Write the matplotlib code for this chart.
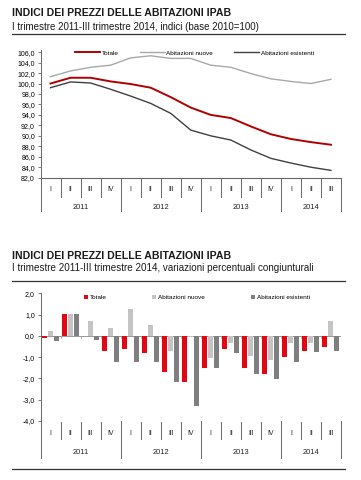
import numpy as np
import matplotlib
matplotlib.use("Agg")
import matplotlib.pyplot as plt
from matplotlib.lines import Line2D

plt.rcParams['font.family'] = ['Liberation Sans', 'DejaVu Sans']

quarters = ["I", "II", "III", "IV"] * 3 + ["I", "II", "III"]
years = ["2011", "2012", "2013", "2014"]
year_len = [4, 4, 4, 3]

# indici (base 2010=100)
idx_totale = [100.0, 101.1, 101.1, 100.4, 99.9, 99.2, 97.4, 95.4,
              94.0, 93.4, 91.8, 90.3, 89.4, 88.8, 88.3]
idx_nuove = [101.3, 102.4, 103.1, 103.5, 104.9, 105.3, 104.8, 104.8,
             103.5, 103.1, 101.9, 100.9, 100.4, 100.0, 100.8]
idx_esistenti = [99.2, 100.3, 100.1, 98.9, 97.6, 96.2, 94.3, 91.1,
                 90.0, 89.2, 87.3, 85.7, 84.8, 84.0, 83.4]

# variazioni percentuali congiunturali
var_totale = [-0.1, 1.05, 0.0, -0.7, -0.6, -0.8, -1.7, -2.15,
              -1.5, -0.6, -1.5, -1.8, -1.0, -0.7, -0.5]
var_nuove = [0.25, 1.05, 0.7, 0.35, 1.25, 0.5, -0.7, -0.05,
             -1.05, -0.35, -0.95, -1.15, -0.35, -0.35, 0.7]
var_esistenti = [-0.25, 1.05, -0.2, -1.25, -1.25, -1.25, -2.15, -3.3,
                 -1.5, -0.8, -1.8, -2.05, -1.25, -0.75, -0.7]

W, H = 361, 480
fig = plt.figure(figsize=(W / 100, H / 100), dpi=100)


def fx(px):
    return px / W


def fy(py):
    return 1 - py / H


def header(y_title, y_sub, y_rule, sub, sub_size):
    fig.text(fx(11.5), fy(y_title), "INDICI DEI PREZZI DELLE ABITAZIONI IPAB",
             fontsize=7.6, fontweight="bold", va="center", ha="left", color="#1a1a1a")
    fig.text(fx(11.5), fy(y_sub), sub, fontsize=sub_size, va="center", ha="left",
             color="#1a1a1a")
    fig.add_artist(Line2D([fx(12), fx(345)], [fy(y_rule), fy(y_rule)],
                          color="#333333", lw=0.9))


def category_axis(ax, y_roman, y_year, q_top, q_bot, y_bot):
    n = len(quarters)
    tr = ax.get_xaxis_transform()
    for i, q in enumerate(quarters):
        ax.text(i, y_roman, q, transform=tr, ha="center", va="center",
                fontsize=5.0, color="#222222")
    starts = np.cumsum([0] + year_len)
    for k, yr in enumerate(years):
        mid = (starts[k] + starts[k + 1]) / 2 - 0.5
        ax.text(mid, y_year, yr, transform=tr, ha="center", va="center",
                fontsize=5.4, color="#222222")
    for b in range(n + 1):
        xb = b - 0.5
        if b in starts:
            ax.plot([xb, xb], [0, y_bot], transform=tr, color="#666666",
                    lw=0.7, clip_on=False)
        else:
            ax.plot([xb, xb], [q_top, q_bot], transform=tr, color="#666666",
                    lw=0.7, clip_on=False)


def style_axes(ax):
    for s in ["top", "right", "bottom"]:
        ax.spines[s].set_visible(False)
    ax.spines["left"].set_color("#666666")
    ax.spines["left"].set_linewidth(0.7)
    ax.tick_params(axis="y", labelsize=5.0, length=2.5, width=0.6,
                   color="#666666", pad=1.5)
    ax.set_xticks([])
    ax.set_xlim(-0.5, len(quarters) - 0.5)


# ---- indici ----
header(13, 27, 33.5, "I trimestre 2011-III trimestre 2014, indici (base 2010=100)", 7.05)
ax1 = fig.add_axes([fx(40.5), fy(177.7), fx(341 - 40.5), (177.7 - 49.5) / H])
x = np.arange(len(quarters))
ax1.plot(x, idx_totale, color="#B00000", lw=1.4, label="Totale")
ax1.plot(x, idx_nuove, color="#A8A8A8", lw=1.0, label="Abitazioni nuove")
ax1.plot(x, idx_esistenti, color="#404040", lw=1.0, label="Abitazioni esistenti")
ax1.set_ylim(82, 106.5)
ax1.set_yticks(np.arange(82, 107, 2))
ax1.set_yticklabels([f"{v:.1f}".replace(".", ",") for v in np.arange(82, 107, 2)])
style_axes(ax1)
ax1.axhline(82, color="#666666", lw=0.8, clip_on=False)
ax1.spines["left"].set_bounds(82, 106.5)
category_axis(ax1, -0.095, -0.235, 0, -0.15, -0.26)
ax1.legend(loc="upper left", bbox_to_anchor=(0.095, 1.04), ncol=3, frameon=False,
           fontsize=4.6, handlelength=3.9, handletextpad=0.3, columnspacing=3.3)

# ---- variazioni ----
header(256, 268, 280.5,
       "I trimestre 2011-III trimestre 2014, variazioni percentuali congiunturali", 7.15)
ax2 = fig.add_axes([fx(40.5), fy(421), fx(341 - 40.5), (421 - 293.3) / H])
bw = 0.25
ax2.bar(x - 0.3, var_totale, bw, color="#E30613", label="Totale")
ax2.bar(x, var_nuove, bw, color="#C4C4C4", label="Abitazioni nuove")
ax2.bar(x + 0.3, var_esistenti, bw, color="#7F7F7F", label="Abitazioni esistenti")
ax2.set_ylim(-4, 2)
ax2.set_yticks(np.arange(-4, 2.1, 1))
ax2.set_yticklabels([f"{v:.1f}".replace(".", ",") for v in np.arange(-4, 2.1, 1)])
style_axes(ax2)
ax2.axhline(0, color="#999999", lw=0.7, zorder=0)
for b in range(len(quarters) + 1):
    ax2.plot([b - 0.5, b - 0.5], [0, -0.12], color="#999999", lw=0.5, zorder=0)
category_axis(ax2, -0.094, -0.248, -0.005, -0.14, -0.29)
ax2.legend(loc="upper left", bbox_to_anchor=(0.125, 1.03), ncol=3, frameon=False,
           fontsize=4.6, handlelength=0.6, handleheight=0.6, handletextpad=0.3,
           columnspacing=7.2)

fig.add_artist(Line2D([fx(12), fx(345)], [fy(468.5), fy(468.5)],
                      color="#333333", lw=0.9))

fig.savefig("out.png", dpi=100)
